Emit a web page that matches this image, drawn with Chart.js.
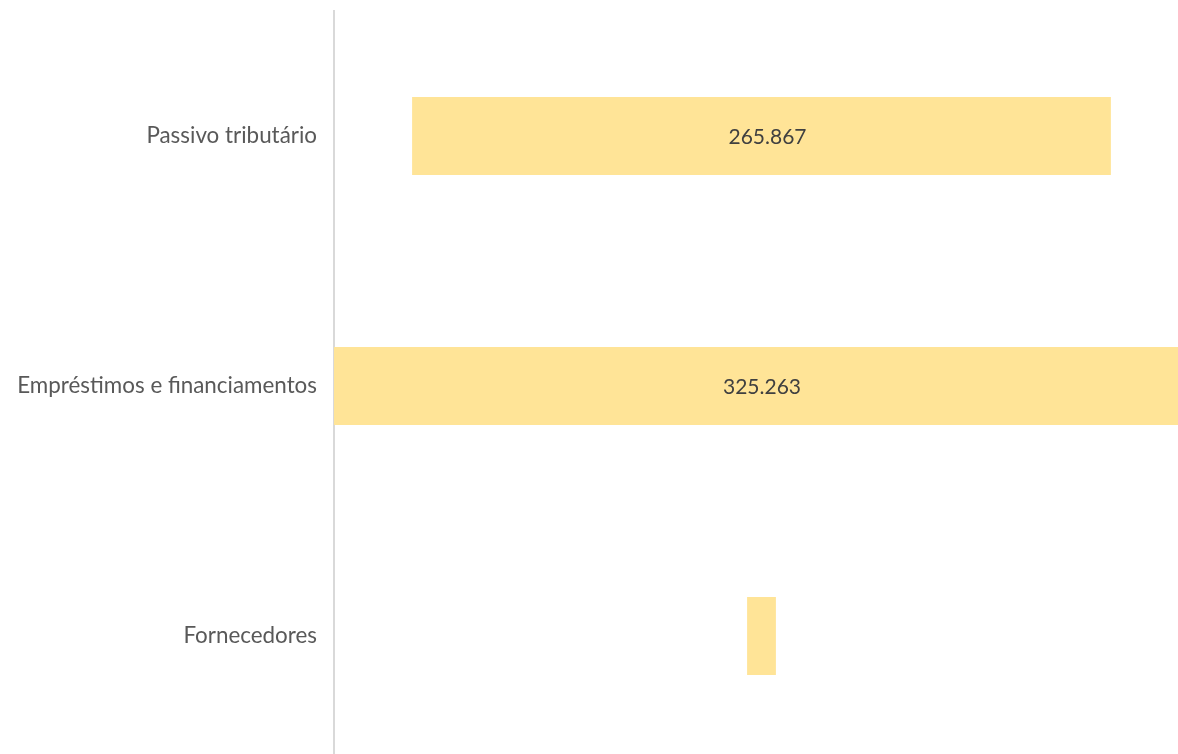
<!DOCTYPE html>
<html>
<head>
<meta charset="utf-8">
<script src="https://cdn.jsdelivr.net/npm/chart.js"></script>
<style>
  html, body { margin: 0; padding: 0; background: #fff; overflow: hidden; }
  #wrap { width: 1178px; height: 761px; }
</style>
</head>
<body>
<div id="wrap"><canvas id="myChart" width="1178" height="761"></canvas></div>
<script>
// categorias
const labels = ['Passivo tributário', 'Empréstimos e financiamentos', 'Fornecedores'];

// barras flutuantes (início / fim)
const barStart = [30.1, 0, 159.2];
const barEnd = [299.4, 325.263, 170.3];

// rótulos dos valores
const valueLabels = ['265.867', '325.263', null];

const xMax = 325.263;

// desenha os valores no meio das barras
const valueLabelPlugin = {
  id: 'valueLabels',
  afterDatasetsDraw(chart) {
    const ctx = chart.ctx;
    const meta = chart.getDatasetMeta(0);
    ctx.save();
    ctx.font = '21px Lato';
    ctx.fillStyle = '#404040';
    ctx.textAlign = 'center';
    ctx.textBaseline = 'middle';
    meta.data.forEach((bar, i) => {
      if (!valueLabels[i]) return;
      const p = bar.getProps(['x', 'base', 'y']);
      ctx.fillText(valueLabels[i], (p.x + p.base) / 2 + 6, p.y + 1);
    });
    ctx.restore();
  }
};

const data = {
  labels: labels,
  datasets: [{
    data: labels.map((l, i) => [barStart[i], barEnd[i]]),
    backgroundColor: '#FFE497',
    borderWidth: 0,
    categoryPercentage: 1,
    barPercentage: 0.312,
  }]
};

const config = {
  type: 'bar',
  data: data,
  plugins: [valueLabelPlugin],
  options: {
    indexAxis: 'y',
    responsive: false,
    animation: false,
    layout: {
      padding: { top: 11, left: 0, right: 0, bottom: 0 }
    },
    plugins: {
      legend: { display: false },
      tooltip: { enabled: false },
    },
    scales: {
      x: {
        min: 0,
        max: xMax,
        display: false,
      },
      y: {
        grid: { display: false, drawTicks: false },
        border: { display: true, color: '#d9d9d9', width: 2 },
        ticks: {
          color: '#595959',
          padding: 17,
          font: { family: 'Lato', size: 22.4 },
        },
        afterFit(scale) {
          scale.width = 334;
          scale.paddingTop = 0;
          scale.paddingBottom = 0;
        }
      }
    }
  }
};

const myChart = new Chart(document.getElementById('myChart').getContext('2d'), config);
</script>
</body>
</html>
